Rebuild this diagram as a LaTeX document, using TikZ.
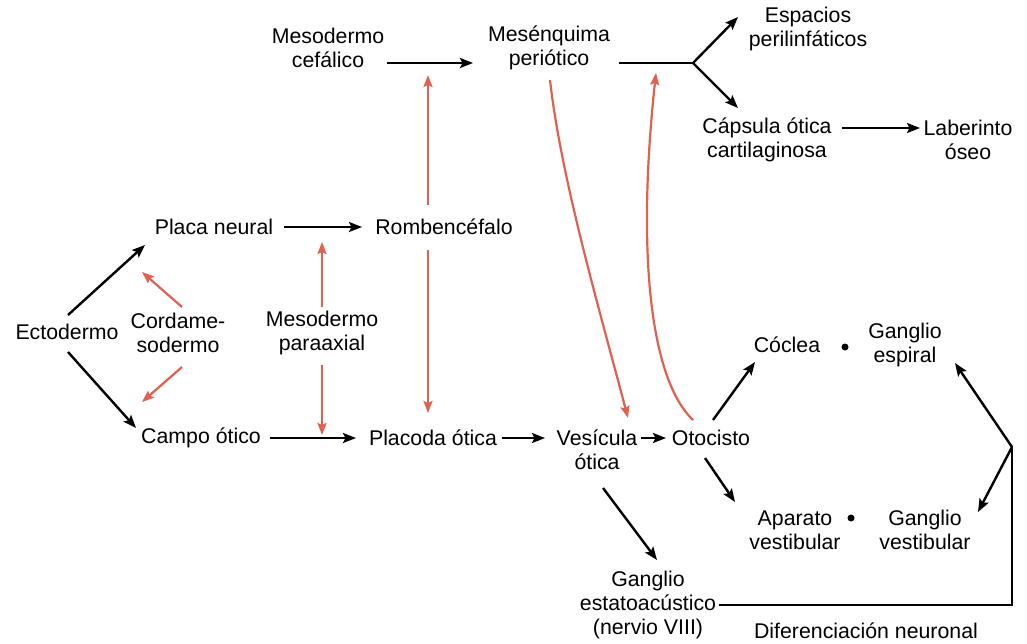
\documentclass[tikz,border=0pt]{standalone}
\usepackage{fontspec}
\setmainfont{Liberation Sans}
\usetikzlibrary{arrows.meta,calc}
\definecolor{redarr}{RGB}{226,96,80}
\begin{document}
\begin{tikzpicture}[x=1pt,y=-1pt,
  lbl/.style={inner sep=0pt,align=center,font=\fontsize{21.3}{24}\selectfont},
  blk/.style={line width=2.4pt,-{Stealth[length=13pt,width=10pt,inset=2.5pt]}},
  blkline/.style={line width=2.4pt},
  red/.style={line width=2.2pt,draw=redarr,-{Stealth[length=12pt,width=9pt,inset=2pt]},color=redarr},
  dot/.style={circle,fill=black,inner sep=0pt,minimum size=7pt}]
\useasboundingbox (0,0) rectangle (1027,643);
\fill[white] (0,0) rectangle (1027,643);
% nodes
\node[lbl] (ecto) at (67,332) {Ectodermo};
\node[lbl] (pn) at (214,227) {Placa neural};
\node[lbl] (co) at (201,438) {Campo ótico};
\node[lbl] (cord) at (178,333) {Cordame-\\sodermo};
\node[lbl] (mpa) at (322,333) {Mesodermo\\paraaxial};
\node[lbl] (romb) at (444,227) {Rombencéfalo};
\node[lbl] (plac) at (433,438) {Placoda ótica};
\node[lbl] (ves) at (597,450) {Vesícula\\ótica};
\node[lbl] (oto) at (711,438) {Otocisto};
\node[lbl] (mc) at (328,48) {Mesodermo\\cefálico};
\node[lbl] (mp) at (549,48) {Mesénquima\\periótico};
\node[lbl] (esp) at (808,29) {Espacios\\perilinfáticos};
\node[lbl] (cap) at (767,140) {Cápsula ótica\\cartilaginosa};
\node[lbl] (lab) at (968,140) {Laberinto\\óseo};
\node[lbl] (coc) at (787,345) {Cóclea};
\node[dot] (b1) at (845,347) {};
\node[lbl] (gesp) at (905,345) {Ganglio\\espiral};
\node[lbl] (apa) at (795,530) {Aparato\\vestibular};
\node[dot] (b2) at (851,518) {};
\node[lbl] (gves) at (925,530) {Ganglio\\vestibular};
\node[lbl] (gest) at (648,605) {Ganglio\\estatoacústico\\(nervio VIII)};
\node[lbl] (dif) at (866,631) {Diferenciación neuronal};
\coordinate (fork) at ($(mp)+(144,15)$);
\coordinate (c1) at ($(gest)+(364,0)$);
\coordinate (c2) at ($(c1)+(0,-158)$);
% black arrows
\draw[blk] ($(ecto)+(1,-17)$) -- ($(pn)+(-69,18)$);
\draw[blk] ($(ecto)+(1,20)$) -- ($(co)+(-65,-10)$);
\draw[blk] ($(pn)+(70,0)$) -- ($(romb)+(-82,0)$);
\draw[blk] ($(co)+(69,0)$) -- ($(plac)+(-77,0)$);
\draw[blk] ($(plac)+(69,0)$) -- ($(ves)+(-52,-12)$);
\draw[blk] ($(ves)+(44,-12)$) -- ($(oto)+(-45,0)$);
\draw[blk] ($(mc)+(59,15)$) -- ($(mp)+(-76,15)$);
\draw[blkline] ($(mp)+(70,15)$) -- (fork);
\draw[blk] (fork) -- ($(esp)+(-70,-12)$);
\draw[blk] (fork) -- ($(cap)+(-29,-32)$);
\draw[blk] ($(cap)+(75,-12)$) -- ($(lab)+(-48,-12)$);
\draw[blk] ($(oto)+(2,-18)$) -- ($(coc)+(-32,17)$);
\draw[blk] ($(oto)+(-6,20)$) -- ($(apa)+(-60,-28)$);
\draw[blk] ($(ves)+(6,38)$) -- ($(gest)+(9,-45)$);
\draw[blkline,line cap=rect] ($(gest)+(72,0)$) -- (c1) -- (c2);
\draw[blk] (c2) -- ($(gesp)+(50,18)$);
\draw[blk] (c2) -- ($(gves)+(53,-18)$);
% red arrows
\draw[red] ($(cord)+(4,-26)$) -- ($(pn)+(-72,45)$);
\draw[red] ($(cord)+(4,34)$) -- ($(co)+(-59,-36)$);
\draw[red] ($(mpa)+(0,-26)$) -- ($(mpa)+(0,-91)$);
\draw[red] ($(mpa)+(0,32)$) -- ($(mpa)+(0,102)$);
\draw[red] ($(romb)+(-16,-22)$) -- ($(romb)+(-16,-152)$);
\draw[red] ($(romb)+(-16,23)$) -- ($(plac)+(-5,-25)$);
\draw[red] ($(mp)+(1,32)$) .. controls ($(mp)+(12,130)$) and ($(mp)+(50,260)$) .. ($(ves)+(31,-32)$);
\draw[red] ($(oto)+(-18,-18)$) .. controls ($(oto)+(-62,-60)$) and ($(mp)+(88,200)$) .. ($(mp)+(107,25)$);
\end{tikzpicture}
\end{document}
